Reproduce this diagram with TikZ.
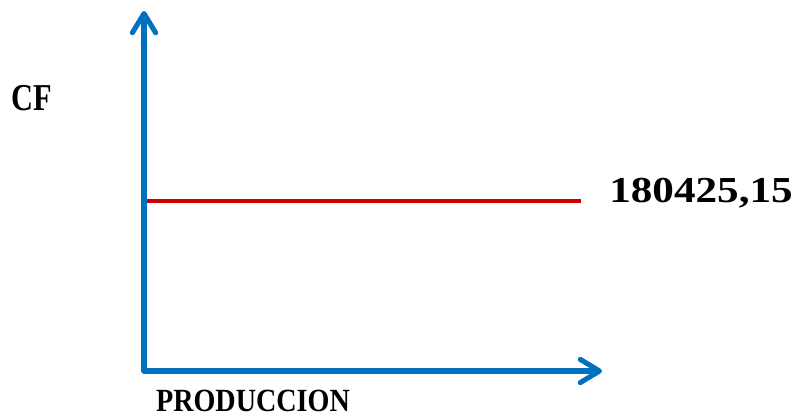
\documentclass[tikz,border=0pt]{standalone}
\usepackage{fontspec}
\setmainfont{Liberation Serif}
\usepackage{tikz}
\usetikzlibrary{arrows.meta,positioning}
\definecolor{axisblue}{RGB}{0,112,192}
\definecolor{cfred}{RGB}{204,0,0}

\begin{document}
\begin{tikzpicture}[x=0.025cm,y=-0.025cm,
  axis/.style={line width=3.6pt,color=axisblue,line cap=round,-{Straight Barb[round,length=4.8mm,width=5.8mm]}},
  costline/.style={line width=2.4pt,color=cfred},
  lbl/.style={font=\fontsize{26}{30}\selectfont\bfseries,inner sep=0pt}]
\useasboundingbox (0,0) rectangle (796,417);

\coordinate (O) at (144,371);
\coordinate (ytop) at (144,11);
\coordinate (xend) at (602,371);
\coordinate (cfa) at (147,201);
\coordinate (cfb) at (581,201);

\draw [axis] (O) -- (ytop);
\draw [axis] (O) -- (xend);
\draw [costline] (cfa) -- (cfb);

\node [lbl,font=\fontsize{27}{30}\selectfont\bfseries] (cf) at (32,98) {\scalebox{0.8}[1]{CF}};
\node [lbl] (val) at (701,193) {\scalebox{1.18}[1]{180425,15}};
\node [lbl,font=\fontsize{23}{28}\selectfont\bfseries] (prod) at (253,401) {\scalebox{0.87}[1]{PRODUCCION}};

\end{tikzpicture}
\end{document}
